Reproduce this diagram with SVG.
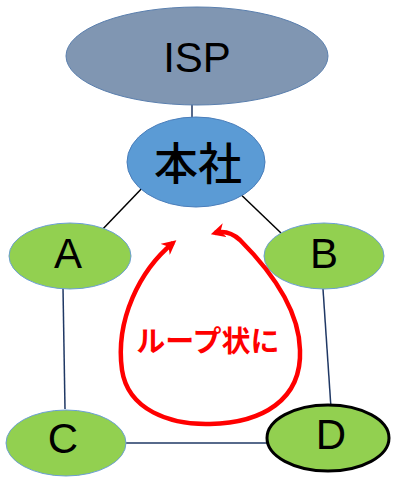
<svg xmlns="http://www.w3.org/2000/svg" width="405" height="487" viewBox="0 0 405 487">
<defs>
<style>
.lbl{font-family:"Liberation Sans","Noto Sans CJK JP",sans-serif;font-size:42px;fill:#000;text-anchor:middle}
.grn{fill:#92d050;stroke:#6c9fd4;stroke-width:1}
.nv{stroke:#1f3864;stroke-width:1.5;fill:none}
.bk{stroke:#000;stroke-width:1.5;fill:none}
</style>
<marker id="ah" viewBox="0 0 10 10" refX="7" refY="5" markerWidth="3.2" markerHeight="3.2" orient="auto-start-reverse" markerUnits="strokeWidth">
<path d="M0,0 L10,5 L0,10 L3,5 z" fill="#ff0000"/>
</marker>
</defs>
<rect width="405" height="487" fill="#fff"/>
<g id="connectors">
<line class="nv" x1="192" y1="100" x2="192" y2="132"/>
<line class="bk" x1="147" y1="183" x2="99" y2="233"/>
<line class="bk" x1="233" y1="187" x2="281" y2="233"/>
<line class="nv" x1="63" y1="288" x2="65" y2="409"/>
<line class="nv" x1="323" y1="289" x2="331" y2="408"/>
<line class="nv" x1="115" y1="443" x2="282" y2="443"/>
</g>
<g id="isp">
<ellipse cx="197" cy="56" rx="131" ry="49" fill="#8096b2" stroke="#5a7fae" stroke-width="1"/>
<text class="lbl" x="197" y="72">ISP</text>
</g>
<g id="honsha">
<ellipse cx="196" cy="162" rx="69" ry="45" fill="#5b9bd5" stroke="#4a7ebb" stroke-width="1"/>
<text class="lbl" x="198" y="180" style="font-family:'Noto Sans CJK JP',sans-serif;font-size:44px;font-weight:500">本社</text>
</g>
<g id="a">
<ellipse class="grn" cx="70" cy="256" rx="61" ry="33"/>
<text class="lbl" x="68" y="268">A</text>
</g>
<g id="b">
<ellipse class="grn" cx="324" cy="256" rx="60" ry="33"/>
<text class="lbl" x="324" y="268">B</text>
</g>
<g id="c">
<ellipse class="grn" cx="66" cy="443" rx="60" ry="33"/>
<text class="lbl" x="63" y="453">C</text>
</g>
<g id="d">
<ellipse cx="328" cy="438" rx="61" ry="33" fill="#92d050" stroke="#000" stroke-width="3"/>
<text class="lbl" x="331" y="449">D</text>
</g>
<g id="loop">
<path d="M 173 243 C 140 270, 115 320, 122 370 C 128 410, 170 425, 210 424 C 262 423, 302 400, 300 350 C 299 305, 265 265, 240 240 C 230 231, 222 231, 215 233" fill="none" stroke="#ff0000" stroke-width="4.5" marker-start="url(#ah)" marker-end="url(#ah)"/>
<text x="208" y="352" style="font-family:'Noto Sans CJK JP',sans-serif;font-size:29px;font-weight:bold;fill:#ff0000;text-anchor:middle">ループ状に</text>
</g>
</svg>
